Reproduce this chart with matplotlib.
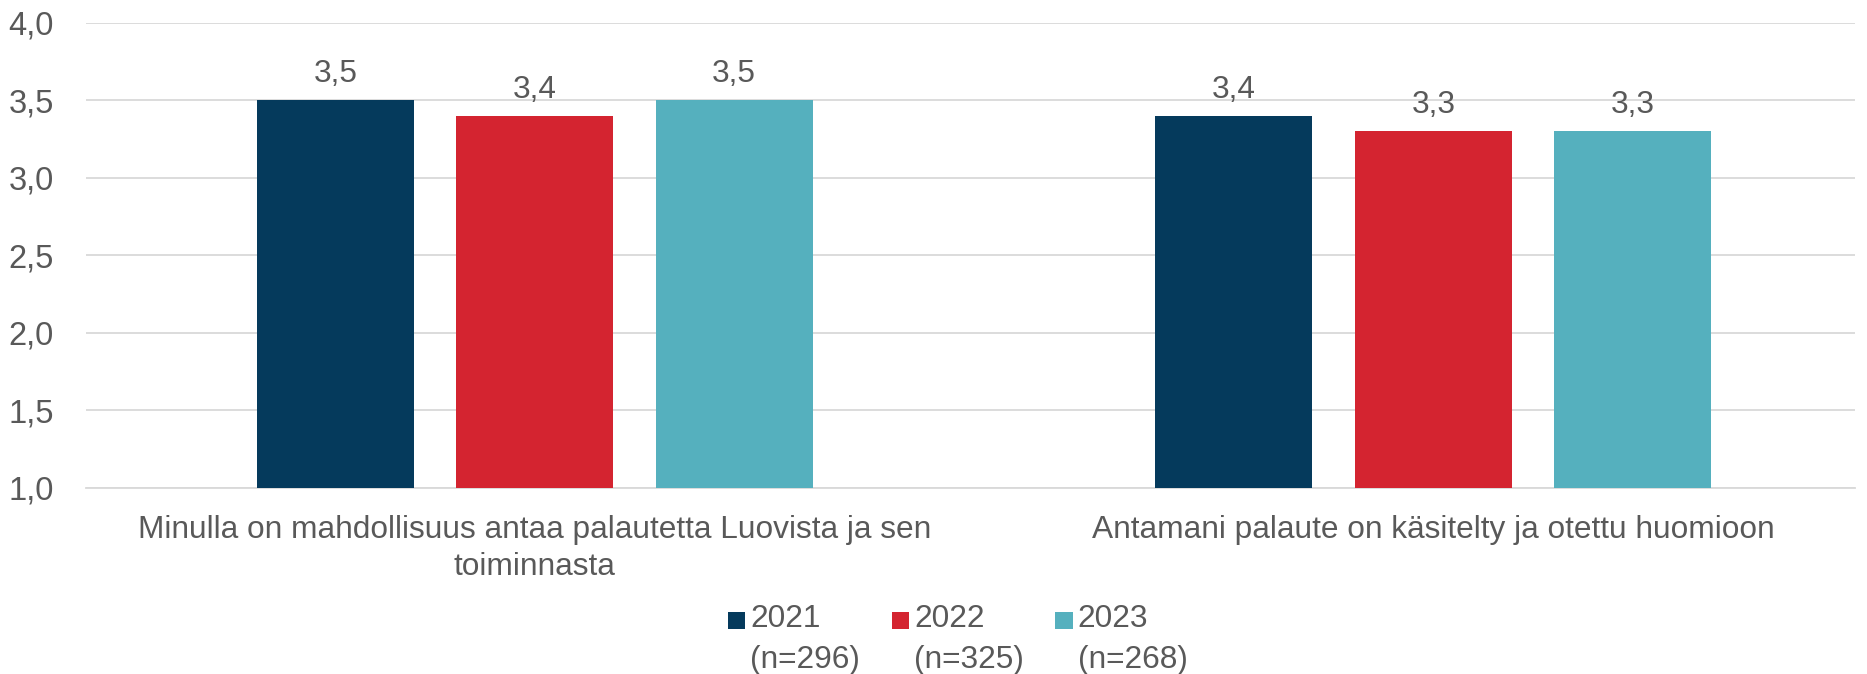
import numpy as np
import matplotlib.pyplot as plt
from matplotlib.patches import Rectangle
from matplotlib.legend_handler import HandlerBase

plt.rcParams['font.family'] = ['Liberation Sans', 'DejaVu Sans']

categories = ["Minulla on mahdollisuus antaa palautetta Luovista ja sen\ntoiminnasta",
              "Antamani palaute on käsitelty ja otettu huomioon"]
series_names = ["2021\n(n=296)", "2022\n(n=325)", "2023\n(n=268)"]
values_2021 = [3.5, 3.4]
values_2022 = [3.4, 3.3]
values_2023 = [3.5, 3.3]
colors = ["#053A5C", "#D42430", "#55B0BE"]
text_color = "#595959"
fs = 22.8
leg_spacing = 1.48


# square legend marker sitting next to the first text line
class TopSquare(HandlerBase):
    def create_artists(self, legend, orig_handle, xdescent, ydescent, width, height, fontsize, trans):
        s = width
        y0 = 0.68 * fontsize
        r = Rectangle((-xdescent, y0), s, s, facecolor=orig_handle.get_facecolor(),
                      edgecolor="none", transform=trans)
        return [r]


fig = plt.figure(figsize=(18.67, 6.74), dpi=100)
ax = fig.add_axes([0.0461, 0.276, 0.9475, 0.6899])

x = np.arange(len(categories))
width = 0.175
offset = 0.222
handles = []
for i, (vals, name, c) in enumerate(zip([values_2021, values_2022, values_2023], series_names, colors)):
    pos = x + (i - 1) * offset
    bars = ax.bar(pos, np.array(vals) - 1.0, width, bottom=1.0, color=c, label=name, zorder=3)
    handles.append(bars[0])
    for p, v in zip(pos, vals):
        ax.text(p, v + 0.168, f"{v:.1f}".replace(".", ","), ha="center", va="center",
                fontsize=fs, color=text_color)

ax.set_ylim(1.0, 4.0)
ax.set_xlim(-0.4994, 1.4694)
yticks = np.arange(1.0, 4.01, 0.5)
ax.set_yticks(yticks)
ax.set_yticklabels([f"{t:.1f}".replace(".", ",") for t in yticks], fontsize=23.5, color=text_color)
ax.set_xticks(x)
ax.set_xticklabels(categories, fontsize=fs, color=text_color, linespacing=1.3)
ax.tick_params(axis="both", length=0)
ax.tick_params(axis="x", pad=19.5)
ax.tick_params(axis="y", pad=23)
ax.grid(axis="y", color="#D9D9D9", linewidth=1.3, zorder=0)
for s in ["top", "right", "left"]:
    ax.spines[s].set_visible(False)
ax.spines["bottom"].set_color("#D9D9D9")
ax.spines["bottom"].set_linewidth(1.3)

leg = fig.legend(handles, series_names, loc="upper left", bbox_to_anchor=(728 / 1867, 1 - 604 / 674),
                 ncol=3, frameon=False, fontsize=fs, handlelength=0.55, handleheight=0.55,
                 handletextpad=0.15, columnspacing=1.0, borderpad=0, borderaxespad=0,
                 labelcolor=text_color, handler_map={Rectangle: TopSquare()})
for t in leg.get_texts():
    t.set_linespacing(leg_spacing)

fig.savefig("out.png", dpi=100)
